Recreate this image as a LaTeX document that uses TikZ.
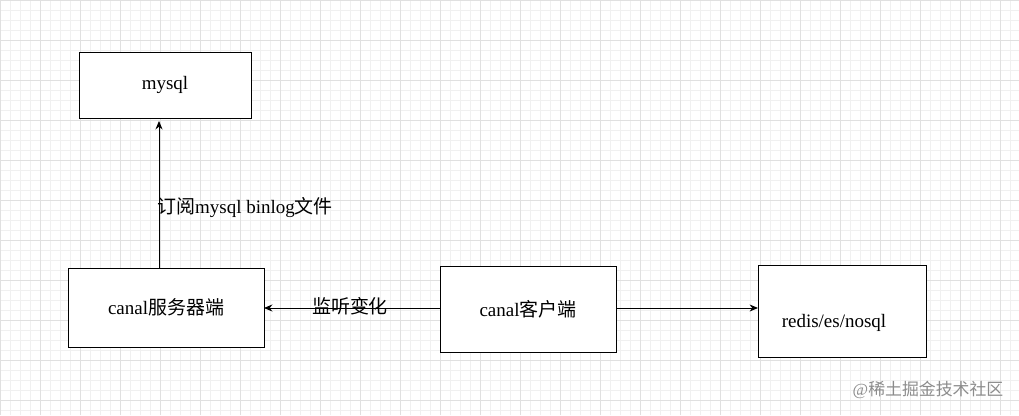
\documentclass[tikz,border=0pt]{standalone}
\usepackage{fontspec}
\usetikzlibrary{arrows.meta}
\setmainfont{Liberation Serif}
\newfontfamily\cjk{Noto Sans CJK SC}
\begin{document}
\begin{tikzpicture}[x=0.025cm,y=-0.025cm,
  box/.style={draw,line width=0.6pt,inner sep=0},
  conn/.style={-{Stealth[length=6pt,width=5pt]},line width=0.6pt},
  lbl/.style={font=\fontsize{13.5}{16}\selectfont}]
\useasboundingbox (0,0) rectangle (1019,415);
\fill[white] (0,0) rectangle (1019,415);
\foreach \i in {0,10,...,1010} \draw[black!6,line width=0.3pt] (\i,0) -- (\i,415);
\foreach \i in {0,10,...,410} \draw[black!6,line width=0.3pt] (0,\i) -- (1019,\i);
\foreach \i in {0,40,...,1000} \draw[black!12,line width=0.4pt] (\i,0) -- (\i,415);
\foreach \i in {0,40,...,400} \draw[black!12,line width=0.4pt] (0,\i) -- (1019,\i);
\node[box,fill=white,minimum width=172*0.025cm,minimum height=66*0.025cm] (mysql) at (165,85) {};
\node[lbl] at (mysql) {mysql};
\node[box,fill=white,minimum width=196*0.025cm,minimum height=79*0.025cm] (server) at (166,307.5) {};
\node[lbl] at (server) {canal{\cjk 服务器端}};
\node[box,fill=white,minimum width=176*0.025cm,minimum height=86*0.025cm] (client) at (528,309) {};
\node[lbl] at (client) {canal{\cjk 客户端}};
\node[box,fill=white,minimum width=168*0.025cm,minimum height=92*0.025cm] (redis) at (842,311) {};
\node[lbl] at (834,323) {redis/es/nosql};
\coordinate (st) at (159,268);
\coordinate (mt) at (159,121);
\draw[conn] (st) -- (mt);
\node[lbl] at (245,208) {{\cjk 订阅}mysql binlog{\cjk 文件}};
\coordinate (c1) at (440,308);
\coordinate (s1) at (264,308);
\draw[conn] (c1) -- (s1);
\node[lbl,inner sep=1pt] at (350,306) {\cjk 监听变化};
\coordinate (c2) at (616,308);
\coordinate (r2) at (758,308);
\draw[conn] (c2) -- (r2);
\node[text=black!45,font=\fontsize{12}{14}\selectfont] at (928,390) {@{\cjk 稀土掘金技术社区}};
\end{tikzpicture}
\end{document}
